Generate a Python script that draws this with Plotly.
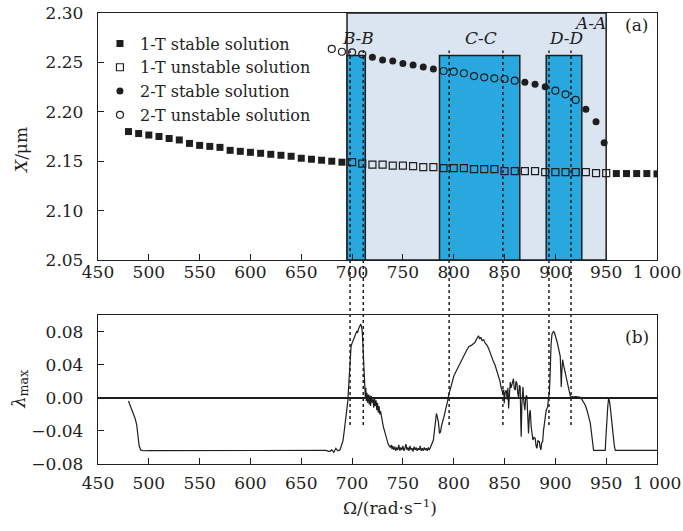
import plotly.graph_objects as go

# ---------------- data ----------------
omega_1t_stable = [480, 490, 500, 510, 520, 530, 540, 550, 560, 570, 580, 590, 600, 610, 620,
                   630, 640, 650, 660, 670, 680, 690, 960, 970, 980, 990, 1000]
x_1t_stable = [2.180, 2.178, 2.1765, 2.175, 2.173, 2.1715, 2.168, 2.166, 2.165, 2.164, 2.161,
               2.160, 2.159, 2.158, 2.157, 2.156, 2.155, 2.153, 2.152, 2.151, 2.150, 2.149,
               2.1375, 2.1375, 2.1375, 2.1375, 2.1372]

omega_1t_unstable = [700, 710, 720, 730, 740, 750, 760, 770, 780, 790, 800, 810, 820, 830, 840,
                     850, 860, 870, 880, 890, 900, 910, 920, 930, 940, 950]
x_1t_unstable = [2.149, 2.1475, 2.1465, 2.1465, 2.1455, 2.1455, 2.145, 2.144, 2.144, 2.143,
                 2.143, 2.143, 2.142, 2.142, 2.142, 2.140, 2.140, 2.140, 2.140, 2.139, 2.139,
                 2.139, 2.139, 2.139, 2.138, 2.138]

omega_2t_stable = [720, 730, 740, 750, 760, 770, 780, 870, 880, 890, 930, 940, 948]
x_2t_stable = [2.2552, 2.2524, 2.2514, 2.249, 2.2474, 2.2453, 2.2433, 2.2299, 2.2278, 2.2254,
               2.2025, 2.190, 2.1687]

omega_2t_unstable = [680, 690, 700, 710, 790, 800, 810, 820, 830, 840, 850, 860, 900, 910, 920]
x_2t_unstable = [2.2636, 2.2608, 2.2602, 2.2582, 2.2413, 2.2406, 2.239, 2.2362, 2.2349, 2.2339,
                 2.2332, 2.2315, 2.2214, 2.2177, 2.212]

# regions
region_outer = [695, 950]
region_names = ["B-B", "C-C", "D-D"]
region_x0 = [695, 786, 891]
region_x1 = [713, 865, 926]
region_top = 2.257
section_lines = [698, 711, 795.5, 848.4, 893.7, 915.4]

# lambda_max curve
lam_x = [480, 481.5, 483, 484.8, 486.5, 488, 489.5, 490.5, 492, 494,
         500, 520, 540, 560, 580, 600, 620, 625, 628, 640, 650, 655, 660, 665, 670, 674, 678,
         680, 682, 684, 686, 688, 689.5, 691, 692, 693, 694, 695, 695.8, 696.4, 697, 697.5,
         698.2, 699, 700, 701.3, 702.5, 703.5, 704.6, 705.5, 706.3, 707.2, 708, 708.6, 709.3,
         710, 710.6, 711.2, 711.8, 712.3, 713, 713.5, 714, 714.6, 715.2, 716, 716.8, 717.5,
         718.2, 719, 719.8, 720.5, 721.3, 722, 722.8, 723.6, 724.3, 725, 725.8, 726.5, 727.3,
         728, 729, 730, 731, 732.5, 733.5, 734.5, 735.5, 736.5, 737.5, 738.5, 739.3, 740, 741,
         742, 743, 744, 745, 746, 747, 748, 749, 750, 751, 752, 753, 754, 755, 756, 757, 758,
         759, 760, 761, 762, 763, 764, 765, 766, 767, 768, 769, 770, 771, 772, 773, 774, 775,
         776, 777, 778, 779, 780, 781, 782, 783, 784, 785, 786, 787, 788, 789, 790, 791, 792,
         793, 794, 795, 796.5, 798, 800, 802, 804, 806, 808, 810, 811.5, 813, 815, 817, 819,
         821, 822.5, 824.4, 825.5, 826.5, 828, 829.5, 831, 833, 834.5, 836, 837.5, 839, 840.8,
         842.5, 844, 845.5, 846.5, 847.5, 848.4, 849.2, 849.7, 850.5, 851.7, 852.5, 853.3, 854,
         854.8, 855.6, 856.4, 857.3, 858, 858.8, 859.5, 860.5, 861.3, 862.2, 863, 863.8, 864.6,
         865.4, 866, 866.4, 867, 867.5, 868.1, 869, 870, 870.7, 871.5, 872, 872.8, 873.6, 874.5,
         875.3, 876.2, 877, 877.9, 879, 880.2, 881, 881.9, 882.8, 884.2, 885, 885.8, 886.5,
         887.5, 888.3, 889, 890.1, 891, 892.4, 893.3, 894, 894.6, 895, 895.8, 896.7, 897.5,
         898.2, 899, 899.9, 900.8, 901.6, 902.4, 903.1, 904, 904.8, 905.4, 905.8, 906.3, 907.1,
         908, 909, 909.7, 910.7, 911.8, 913, 914, 914.7, 916, 918, 920, 922, 924.5, 926, 927.8,
         929.5, 931.1, 932.8, 934.4, 935.3, 936, 936.8, 937.6, 940, 945, 949.1, 949.6, 950.2,
         950.8, 951.6, 952.4, 953.2, 954, 955, 955.7, 957, 958, 959, 970, 985, 1000]
lam_y = [-0.004, -0.009, -0.012, -0.018, -0.025, -0.032, -0.045, -0.058, -0.063, -0.064,
         -0.0638, -0.0638, -0.0637, -0.0638, -0.0637, -0.0638, -0.0637, -0.0632, -0.0638,
         -0.0637, -0.0636, -0.0634, -0.064, -0.0636, -0.0641, -0.0636, -0.065,
         -0.063, -0.066, -0.061, -0.064, -0.063, -0.058, -0.052, -0.043, -0.033, -0.020,
         -0.012, -0.004, 0.009, 0.025, 0.038,
         0.052, 0.062, 0.066, 0.071, 0.073, 0.077, 0.080, 0.079, 0.083, 0.085, 0.088, 0.089,
         0.086,
         0.080, 0.065, 0.045, 0.020, 0.008, 0.001, 0.012, -0.004, 0.006, -0.006, 0.004, -0.008,
         0.003,
         -0.010, 0.002, -0.006, -0.002, -0.012, 0.001, -0.010, -0.003, -0.015, -0.006, -0.018,
         -0.010, -0.020,
         -0.016, -0.027, -0.030, -0.036, -0.043, -0.050, -0.054, -0.056, -0.058, -0.060, -0.057,
         -0.062, -0.058, -0.063,
         -0.059, -0.064, -0.060, -0.063, -0.057, -0.064, -0.060, -0.063, -0.058, -0.064, -0.061,
         -0.056, -0.063, -0.060, -0.064, -0.058, -0.063,
         -0.061, -0.065, -0.059, -0.063, -0.060, -0.064, -0.061, -0.063, -0.058, -0.064, -0.061,
         -0.064, -0.060, -0.063, -0.061, -0.064, -0.060,
         -0.063, -0.060, -0.057, -0.054, -0.051, -0.040, -0.028, -0.019, -0.024, -0.030, -0.043,
         -0.041, -0.034, -0.030, -0.027, -0.020, -0.014,
         -0.010, -0.004, 0.003, 0.011, 0.019, 0.026, 0.031, 0.036, 0.040, 0.047, 0.050, 0.055,
         0.058, 0.062, 0.063, 0.065,
         0.067, 0.071, 0.075, 0.071, 0.073, 0.069, 0.070, 0.066, 0.063, 0.059, 0.053, 0.049,
         0.044, 0.039,
         0.033, 0.027, 0.020, 0.013, 0.010, 0.005, 0.010, -0.007, 0.006, 0.009, -0.002, 0.012,
         -0.013,
         0.010, 0.019, 0.012, 0.016, 0.022, 0.023, 0.012, 0.009, 0.020, 0.017, 0.005, 0.001,
         0.015,
         0.013, -0.030, -0.047, -0.010, 0.010, 0.013, -0.005, -0.015, -0.002, 0.003, 0.001,
         -0.025, -0.043, -0.020,
         -0.015, -0.035, -0.045, -0.051, -0.048, -0.049, -0.058, -0.061, -0.052, -0.053, -0.060,
         -0.063, -0.055,
         -0.053, -0.040, -0.030, -0.023, -0.015, -0.011, 0.000, 0.005, 0.020, 0.050, 0.065,
         0.077, 0.080,
         0.080, 0.079, 0.076, 0.072, 0.068, 0.064, 0.060, 0.055, 0.050, 0.030, 0.013, 0.030,
         0.046,
         0.040, 0.034, 0.030, 0.024, 0.017, 0.009, 0.005, 0.002, 0.0015, 0.001, 0.0015, 0.001,
         0.0005, -0.002, -0.005,
         -0.009, -0.015, -0.022, -0.031, -0.040, -0.047, -0.056, -0.0635, -0.0635, -0.0635,
         -0.0635, -0.050, -0.035,
         -0.027, -0.010, -0.0005, -0.004, -0.011, -0.024, -0.035, -0.050, -0.058, -0.0635,
         -0.0635, -0.0635, -0.0635]

x_ticks = [450, 500, 550, 600, 650, 700, 750, 800, 850, 900, 950, 1000]
x_ticktext = ["450", "500", "550", "600", "650", "700", "750", "800", "850", "900", "950", "1 000"]
y1_ticks = [2.05, 2.10, 2.15, 2.20, 2.25, 2.30]
y2_ticks = [-0.08, -0.04, 0.00, 0.04, 0.08]

# ---------------- figure ----------------
FONT = "DejaVu Serif"
INK = "#1e1e1e"
LIGHT = "#dbe5f2"
DARK = "#29a8e0"
TICK_SIZE = 17
TXT_SIZE = 17

fig = go.Figure()

fig.add_trace(go.Scatter(x=omega_1t_stable, y=x_1t_stable, mode="markers",
                         name="1-T stable solution",
                         marker=dict(symbol="square", size=7, color=INK),
                         xaxis="x", yaxis="y"))
fig.add_trace(go.Scatter(x=omega_1t_unstable, y=x_1t_unstable, mode="markers",
                         name="1-T unstable solution",
                         marker=dict(symbol="square-open", size=7, color=INK, line=dict(width=1.2)),
                         xaxis="x", yaxis="y"))
fig.add_trace(go.Scatter(x=omega_2t_stable, y=x_2t_stable, mode="markers",
                         name="2-T stable solution",
                         marker=dict(symbol="circle", size=7, color=INK),
                         xaxis="x", yaxis="y"))
fig.add_trace(go.Scatter(x=omega_2t_unstable, y=x_2t_unstable, mode="markers",
                         name="2-T unstable solution",
                         marker=dict(symbol="circle-open", size=7, color=INK, line=dict(width=1.2)),
                         xaxis="x", yaxis="y"))
fig.add_trace(go.Scatter(x=lam_x, y=lam_y, mode="lines", showlegend=False,
                         line=dict(color=INK, width=1.2),
                         xaxis="x2", yaxis="y2"))

shapes = []
shapes.append(dict(type="rect", xref="x", yref="y", x0=region_outer[0], x1=region_outer[1],
                   y0=2.05, y1=2.30, fillcolor=LIGHT, line=dict(color=INK, width=1.5),
                   layer="below"))
for x0, x1 in zip(region_x0, region_x1):
    shapes.append(dict(type="rect", xref="x", yref="y", x0=x0, x1=x1, y0=2.05, y1=region_top,
                       fillcolor=DARK, line=dict(color=INK, width=1.5), layer="below"))

top_dom = [0.4523, 1.0]
bot_dom = [0.0, 0.3304]
y_line_top = top_dom[0] + (2.262 - 2.05) / 0.25 * (top_dom[1] - top_dom[0])
y_line_bot = bot_dom[0] + (-0.033 + 0.08) / 0.18 * (bot_dom[1] - bot_dom[0])
for xv in section_lines:
    shapes.append(dict(type="line", xref="x", yref="paper", x0=xv, x1=xv,
                       y0=y_line_bot, y1=y_line_top,
                       line=dict(color=INK, width=1.5, dash="dot")))

C = dict(xanchor="center", yanchor="middle", showarrow=False)
annotations = []
annotations.append(dict(text="<i>A</i>-<i>A</i>", x=934, y=2.290, xref="x", yref="y",
                        font=dict(family=FONT, size=TXT_SIZE, color=INK), **C))
for name, x0, x1 in zip(region_names, region_x0, region_x1):
    a, b = name.split("-")
    annotations.append(dict(text=f"<i>{a}</i>-<i>{b}</i>", x=(x0 + x1) / 2 + 1.5,
                            y=2.2742, xref="x", yref="y",
                            font=dict(family=FONT, size=TXT_SIZE, color=INK), **C))
annotations.append(dict(text="(a)", x=980, y=2.288, xref="x", yref="y",
                        font=dict(family=FONT, size=TXT_SIZE, color=INK), **C))
annotations.append(dict(text="(b)", x=980, y=0.0733, xref="x2", yref="y2",
                        font=dict(family=FONT, size=TXT_SIZE, color=INK), **C))
annotations.append(dict(text="<i>X</i>/μm", x=-0.138, y=0.696, xref="paper", yref="paper",
                        textangle=-90, font=dict(family=FONT, size=TXT_SIZE, color=INK), **C))
annotations.append(dict(text="<i>λ</i><sub>max</sub>", x=-0.140, y=0.166, xref="paper",
                        yref="paper", textangle=-90,
                        font=dict(family=FONT, size=TXT_SIZE + 1, color=INK), **C))
annotations.append(dict(text="Ω/(rad·s<sup>−1</sup>)", x=0.522, y=-0.0953, xref="paper",
                        yref="paper", font=dict(family=FONT, size=TXT_SIZE, color=INK), **C))

axis_common = dict(showline=True, mirror=True, linecolor=INK, linewidth=1.3, ticks="inside",
                   ticklen=6, tickcolor=INK, tickwidth=1.2, showgrid=False, automargin=False,
                   tickfont=dict(family=FONT, size=TICK_SIZE, color=INK))

fig.update_layout(
    width=683, height=531,
    margin=dict(l=98, r=26, t=13, b=67, autoexpand=False),
    plot_bgcolor="white", paper_bgcolor="white",
    font=dict(family=FONT, size=TXT_SIZE, color=INK),
    showlegend=True,
    legend=dict(x=0.0035, y=0.97, xanchor="left", yanchor="top", bgcolor="rgba(0,0,0,0)",
                font=dict(family=FONT, size=16, color=INK), itemwidth=30, tracegroupgap=0),
    xaxis=dict(domain=[0, 1], range=[450, 1000], anchor="y", tickvals=x_ticks,
               ticktext=x_ticktext, zeroline=False, ticklabelstandoff=-4, **axis_common),
    yaxis=dict(domain=top_dom, range=[2.05, 2.30], anchor="x", tickvals=y1_ticks,
               tickformat=".2f", zeroline=False, ticklabelstandoff=10, **axis_common),
    xaxis2=dict(domain=[0, 1], range=[450, 1000], anchor="y2", tickvals=x_ticks,
                ticktext=x_ticktext, zeroline=False, ticklabelstandoff=3, **axis_common),
    yaxis2=dict(domain=bot_dom, range=[-0.08, 0.10], anchor="x2", tickvals=y2_ticks,
                tickformat=".2f", zeroline=True, zerolinecolor=INK, zerolinewidth=2.2,
                ticklabelstandoff=10, **axis_common),
    shapes=shapes,
    annotations=annotations,
)

# remove the browser's default page margin so the figure sits at the window's corner
fig.write_html("out.html", config={"displayModeBar": False},
               post_script="document.body.style.margin='0';")
